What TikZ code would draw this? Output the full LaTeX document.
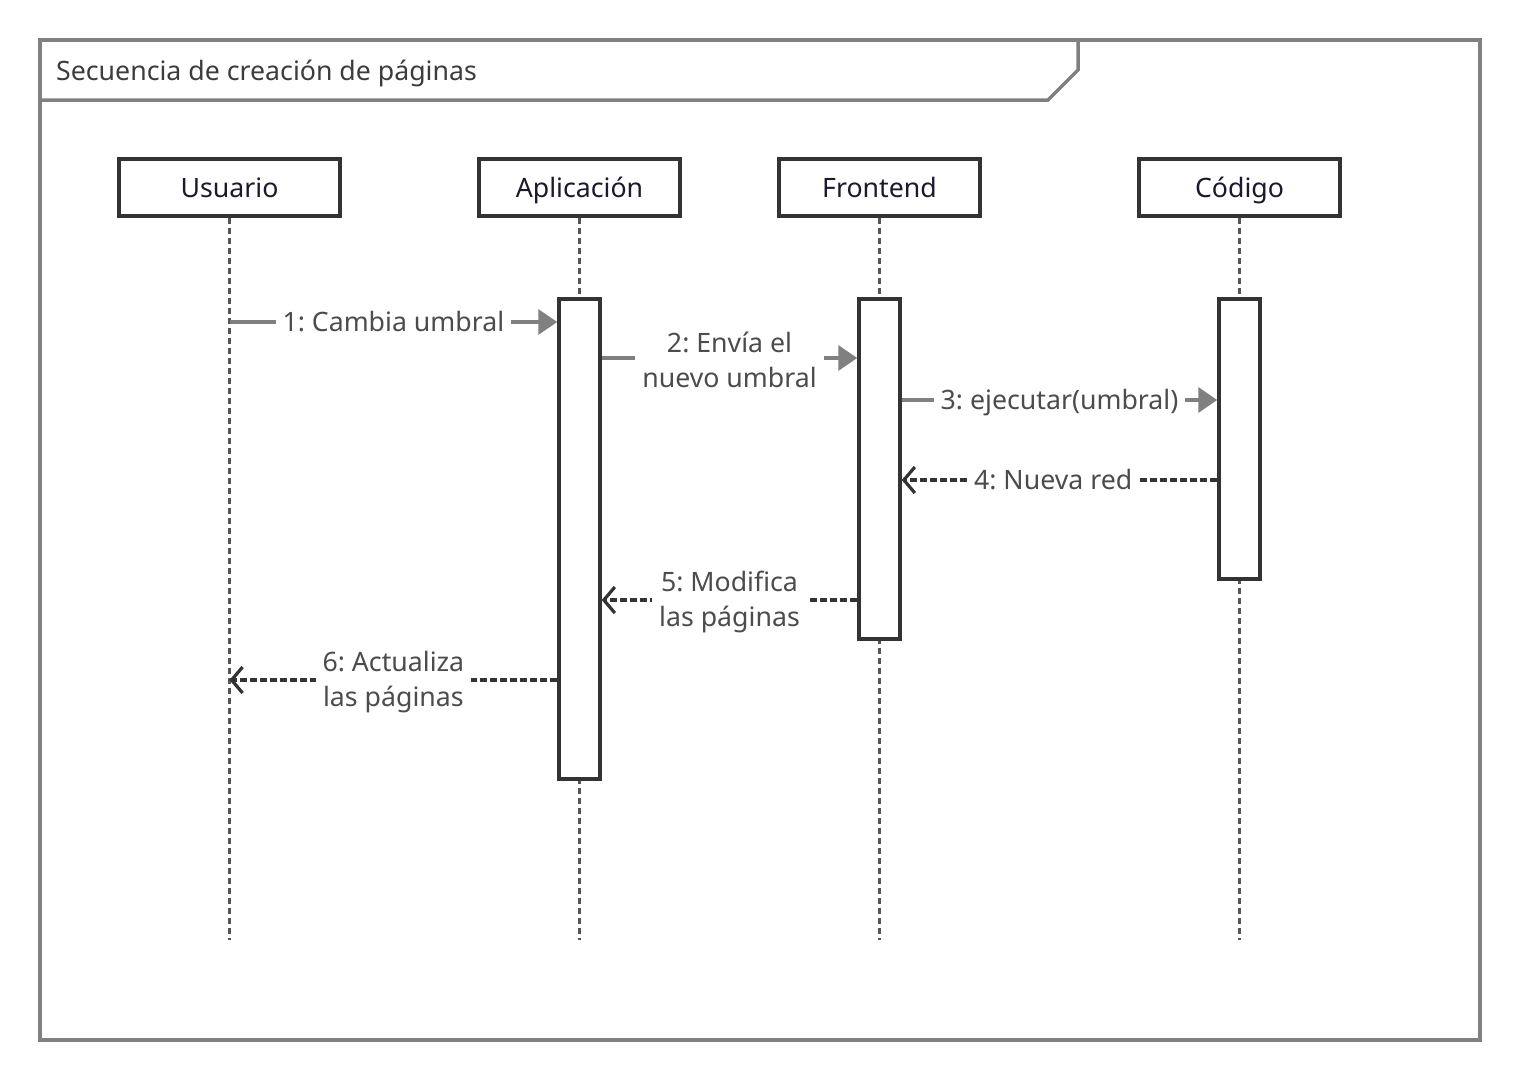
\documentclass[tikz,border=0pt]{standalone}
\usepackage{fontspec}
\setmainfont{Noto Sans}
\usetikzlibrary{arrows.meta}
\definecolor{framec}{HTML}{808080}
\definecolor{boxline}{HTML}{333333}
\definecolor{lifel}{HTML}{555555}
\definecolor{msgtxt}{HTML}{4C4C4C}
\definecolor{headtxt}{HTML}{1A1A2E}
\definecolor{titletxt}{HTML}{3C3C3C}
\frenchspacing
\begin{document}
\begin{tikzpicture}[x=1pt,y=-1pt,
  txt/.style={font=\fontsize{26.7}{35}\selectfont},
  head/.style={draw=boxline, line width=3.5pt, fill=white, minimum height=57pt, inner sep=0pt, text height=22pt, text depth=3pt, text=headtxt, txt},
  act/.style={draw=boxline, line width=3.5pt, fill=white, minimum width=41pt, inner sep=0pt},
  lline/.style={draw=lifel, line width=2.5pt, dash pattern=on 6pt off 4pt},
  call/.style={draw=framec, line width=3.5pt, -{Triangle[length=19pt,width=25pt]}},
  ret/.style={draw=boxline, line width=3.2pt, dash pattern=on 7pt off 3pt, -{Straight Barb[length=11pt,width=26pt]}},
  lbl/.style={fill=white, text=msgtxt, txt, align=center, inner xsep=7pt, inner ysep=1pt}
]
\useasboundingbox (0,0) rectangle (1521,1080);
% frame
\draw[framec, line width=3.5pt] (40,40) rectangle (1480,1040);
\draw[framec, line width=3.5pt] (40,100) -- (1048,100) -- (1078,70) -- (1078,40);
\node[anchor=west, text=titletxt, txt, inner sep=0pt] (title) at (56,73.5) {Secuencia de creación de páginas};
% heads
\node[head, minimum width=221pt] (u) at (229.5,187.5) {Usuario};
\node[head, minimum width=201pt] (ap) at (579.5,187.5) {Aplicación};
\node[head, minimum width=201pt] (fe) at (879.5,187.5) {Frontend};
\node[head, minimum width=201pt] (co) at (1239.5,187.5) {Código};
% lifeline ends
\coordinate (ue) at (229.5,940);
\coordinate (ape) at (579.5,940);
\coordinate (fee) at (879.5,940);
\coordinate (coe) at (1239.5,940);
\draw[lline] (u.south) -- (ue);
\draw[lline] (ap.south) -- (ape);
\draw[lline] (fe.south) -- (fee);
\draw[lline] (co.south) -- (coe);
% activations
\node[act, minimum height=480pt] (a1) at (579.5,539) {};
\node[act, minimum height=340pt] (f1) at (879.5,469) {};
\node[act, minimum height=280pt] (c1) at (1239.5,439) {};
% message rows
\coordinate (m1) at (229.5,322);
\coordinate (m6) at (229.5,680);
\draw[call] (m1) -- node[lbl]{1: Cambia umbral} (a1.west |- m1);
\draw[call] (a1.east |- 0,358) -- node[lbl, yshift=-2pt]{2: Envía el\\nuevo umbral} (f1.west |- 0,358);
\draw[call] (f1.east |- 0,400) -- node[lbl, yshift=-2.5pt]{3: ejecutar(umbral)} (c1.west |- 0,400);
\draw[ret] (c1.west |- 0,480) -- node[lbl, pos=0.52]{4: Nueva red} (f1.east |- 0,480);
\draw[ret] (f1.west |- 0,600) -- node[lbl, yshift=-2pt]{5: Modifica\\las páginas} (a1.east |- 0,600);
\draw[ret] (a1.west |- m6) -- node[lbl, yshift=-2pt]{6: Actualiza\\las páginas} (m6);
\end{tikzpicture}
\end{document}
